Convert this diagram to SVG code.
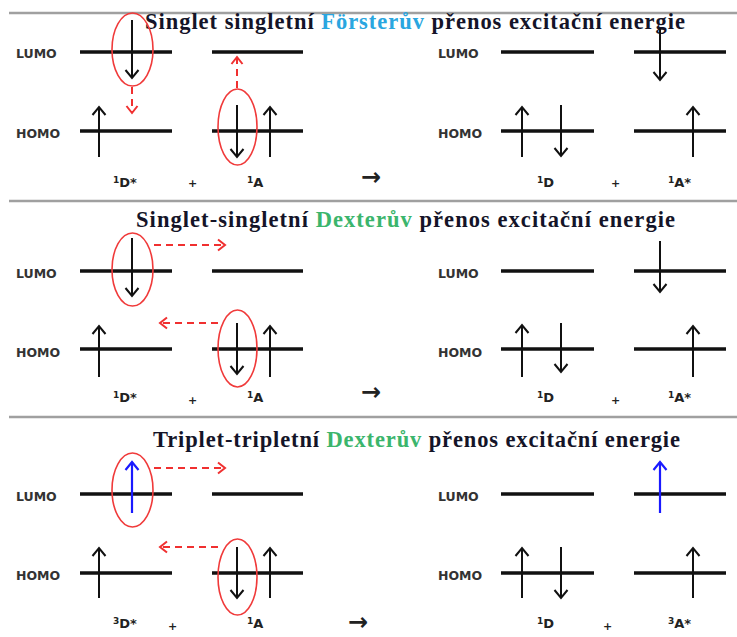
<svg xmlns="http://www.w3.org/2000/svg" width="737" height="637" viewBox="0 0 737 637">
<style>
.sep{stroke:#a0a0a0;stroke-width:2.5}
.lvl{stroke:#111;stroke-width:3.5}
.e{stroke:#111;stroke-width:2;fill:none}
.eb{stroke:#1a1aff;stroke-width:2.2;fill:none}
.rd{stroke:#f03030;stroke-width:2;fill:none;stroke-dasharray:7 5}
.ell{stroke:#f03a3a;stroke-width:1.6;fill:none}
.mo{font-family:"DejaVu Sans","Liberation Sans",sans-serif;font-weight:bold;font-size:12.5px;fill:#333}
.lb{font-family:"DejaVu Sans","Liberation Sans",sans-serif;font-weight:bold;font-size:13px;fill:#222}
.sp{font-size:9px}
.pl{font-family:"DejaVu Sans",sans-serif;font-weight:bold;font-size:11px;fill:#222}
.ar{font-family:"DejaVu Sans",sans-serif;font-weight:bold;font-size:24px;fill:#222}
.tt{font-family:"Liberation Serif","Times New Roman",serif;font-weight:bold;font-size:22.5px;fill:#141428}
.fo{fill:#2aa6e0}
.dx{fill:#3bb56c}
</style>
<defs>
<marker id="hk" viewBox="0 0 16 16" refX="9" refY="8" markerWidth="16" markerHeight="16" orient="auto" markerUnits="userSpaceOnUse"><path d="M1,1.5 L9,8 L1,14.5" fill="none" stroke="#111" stroke-width="2"/></marker>
<marker id="hr" viewBox="0 0 16 16" refX="9" refY="8" markerWidth="16" markerHeight="16" orient="auto" markerUnits="userSpaceOnUse"><path d="M2,2.5 L9,8 L2,13.5" fill="none" stroke="#f03030" stroke-width="2"/></marker>
<marker id="hb" viewBox="0 0 16 16" refX="9" refY="8" markerWidth="16" markerHeight="16" orient="auto" markerUnits="userSpaceOnUse"><path d="M1,1.5 L9,8 L1,14.5" fill="none" stroke="#1a1aff" stroke-width="2.2"/></marker>
</defs>

<g id="separators">
<line class="sep" x1="9" y1="13" x2="737" y2="13"/>
<line class="sep" x1="9" y1="201" x2="737" y2="201"/>
<line class="sep" x1="9" y1="417" x2="737" y2="417"/>
</g>

<g id="panel1">
<text class="tt" x="145" y="29" textLength="540" lengthAdjust="spacing">Singlet singletní <tspan class="fo">Försterův</tspan> přenos excitační energie</text>
<g id="p1-labels">
<text class="mo" x="16" y="57.5">LUMO</text>
<text class="mo" x="16" y="137.5">HOMO</text>
<text class="mo" x="438" y="57.5">LUMO</text>
<text class="mo" x="438" y="137.5">HOMO</text>
<text class="lb" x="113" y="187"><tspan class="sp" dy="-4">1</tspan><tspan dy="4">D*</tspan></text>
<text class="pl" x="188" y="187">+</text>
<text class="lb" x="247" y="187"><tspan class="sp" dy="-4">1</tspan><tspan dy="4">A</tspan></text>
<text class="ar" x="361" y="185">→</text>
<text class="lb" x="537" y="187"><tspan class="sp" dy="-4">1</tspan><tspan dy="4">D</tspan></text>
<text class="pl" x="611" y="187">+</text>
<text class="lb" x="668" y="187"><tspan class="sp" dy="-4">1</tspan><tspan dy="4">A*</tspan></text>
</g>
<g id="p1-D-star">
<line class="lvl" x1="80" y1="52" x2="172" y2="52"/>
<line class="lvl" x1="80" y1="131" x2="172" y2="131"/>
<line class="e" x1="132" y1="20" x2="132" y2="78" marker-end="url(#hk)"/>
<line class="e" x1="99" y1="157" x2="99" y2="107" marker-end="url(#hk)"/>
<ellipse class="ell" cx="132.5" cy="49.5" rx="20.5" ry="36.5"/>
</g>
<g id="p1-A">
<line class="lvl" x1="212" y1="52" x2="303" y2="52"/>
<line class="lvl" x1="212" y1="131" x2="303" y2="131"/>
<line class="e" x1="237" y1="105" x2="237" y2="157" marker-end="url(#hk)"/>
<line class="e" x1="270" y1="157" x2="270" y2="107" marker-end="url(#hk)"/>
<ellipse class="ell" cx="237.5" cy="127" rx="19.5" ry="38"/>
</g>
<g id="p1-D">
<line class="lvl" x1="501" y1="52" x2="594" y2="52"/>
<line class="lvl" x1="501" y1="131" x2="594" y2="131"/>
<line class="e" x1="522" y1="157" x2="522" y2="107" marker-end="url(#hk)"/>
<line class="e" x1="561" y1="105" x2="561" y2="156" marker-end="url(#hk)"/>
</g>
<g id="p1-A-star">
<line class="lvl" x1="634" y1="52" x2="726" y2="52"/>
<line class="lvl" x1="634" y1="131" x2="726" y2="131"/>
<line class="e" x1="660" y1="28" x2="660" y2="80" marker-end="url(#hk)"/>
<line class="e" x1="693" y1="157" x2="693" y2="107" marker-end="url(#hk)"/>
</g>
</g>

<g id="panel2">
<text class="tt" x="136" y="227" textLength="539" lengthAdjust="spacing">Singlet-singletní <tspan class="dx">Dexterův</tspan> přenos excitační energie</text>
<g id="p2-labels">
<text class="mo" x="16" y="277.5">LUMO</text>
<text class="mo" x="16" y="356.5">HOMO</text>
<text class="mo" x="438" y="277.5">LUMO</text>
<text class="mo" x="438" y="356.5">HOMO</text>
<text class="lb" x="113" y="402"><tspan class="sp" dy="-4">1</tspan><tspan dy="4">D*</tspan></text>
<text class="pl" x="188" y="404">+</text>
<text class="lb" x="247" y="402"><tspan class="sp" dy="-4">1</tspan><tspan dy="4">A</tspan></text>
<text class="ar" x="361" y="400">→</text>
<text class="lb" x="537" y="402"><tspan class="sp" dy="-4">1</tspan><tspan dy="4">D</tspan></text>
<text class="pl" x="611" y="404">+</text>
<text class="lb" x="668" y="402"><tspan class="sp" dy="-4">1</tspan><tspan dy="4">A*</tspan></text>
</g>
<g id="p2-D-star">
<line class="lvl" x1="80" y1="271" x2="172" y2="271"/>
<line class="lvl" x1="80" y1="349" x2="172" y2="349"/>
<line class="e" x1="132" y1="238" x2="132" y2="296" marker-end="url(#hk)"/>
<line class="e" x1="99" y1="377" x2="99" y2="326" marker-end="url(#hk)"/>
<ellipse class="ell" cx="132.5" cy="269.5" rx="20.5" ry="36.5"/>
</g>
<g id="p2-A">
<line class="lvl" x1="212" y1="271" x2="303" y2="271"/>
<line class="lvl" x1="212" y1="349" x2="303" y2="349"/>
<line class="e" x1="237" y1="323" x2="237" y2="374" marker-end="url(#hk)"/>
<line class="e" x1="270" y1="377" x2="270" y2="326" marker-end="url(#hk)"/>
<ellipse class="ell" cx="237.5" cy="348.5" rx="19.5" ry="38.5"/>
</g>
<g id="p2-D">
<line class="lvl" x1="501" y1="271" x2="594" y2="271"/>
<line class="lvl" x1="501" y1="349" x2="594" y2="349"/>
<line class="e" x1="522" y1="377" x2="522" y2="325" marker-end="url(#hk)"/>
<line class="e" x1="561" y1="323" x2="561" y2="372" marker-end="url(#hk)"/>
</g>
<g id="p2-A-star">
<line class="lvl" x1="634" y1="271" x2="726" y2="271"/>
<line class="lvl" x1="634" y1="349" x2="726" y2="349"/>
<line class="e" x1="660" y1="241" x2="660" y2="292" marker-end="url(#hk)"/>
<line class="e" x1="693" y1="377" x2="693" y2="326" marker-end="url(#hk)"/>
</g>
</g>

<g id="panel3">
<text class="tt" x="153" y="447" textLength="527" lengthAdjust="spacing">Triplet-tripletní <tspan class="dx">Dexterův</tspan> přenos excitační energie</text>
<g id="p3-labels">
<text class="mo" x="16" y="500.5">LUMO</text>
<text class="mo" x="16" y="579.5">HOMO</text>
<text class="mo" x="438" y="500.5">LUMO</text>
<text class="mo" x="438" y="579.5">HOMO</text>
<text class="lb" x="113" y="628"><tspan class="sp" dy="-4">3</tspan><tspan dy="4">D*</tspan></text>
<text class="pl" x="168" y="630">+</text>
<text class="lb" x="247" y="628"><tspan class="sp" dy="-4">1</tspan><tspan dy="4">A</tspan></text>
<text class="ar" x="348" y="630">→</text>
<text class="lb" x="537" y="628"><tspan class="sp" dy="-4">1</tspan><tspan dy="4">D</tspan></text>
<text class="pl" x="603" y="630">+</text>
<text class="lb" x="668" y="628"><tspan class="sp" dy="-4">3</tspan><tspan dy="4">A*</tspan></text>
</g>
<g id="p3-D-star">
<line class="lvl" x1="80" y1="494" x2="172" y2="494"/>
<line class="lvl" x1="80" y1="573" x2="172" y2="573"/>
<line class="eb" x1="132" y1="513" x2="132" y2="462" marker-end="url(#hb)"/>
<line class="e" x1="99" y1="598" x2="99" y2="548" marker-end="url(#hk)"/>
<ellipse class="ell" cx="132.5" cy="490" rx="20.5" ry="37"/>
</g>
<g id="p3-A">
<line class="lvl" x1="212" y1="494" x2="303" y2="494"/>
<line class="lvl" x1="212" y1="573" x2="303" y2="573"/>
<line class="e" x1="237" y1="547" x2="237" y2="598" marker-end="url(#hk)"/>
<line class="e" x1="270" y1="598" x2="270" y2="548" marker-end="url(#hk)"/>
<ellipse class="ell" cx="237.5" cy="577" rx="19.5" ry="38"/>
</g>
<g id="p3-D">
<line class="lvl" x1="501" y1="494" x2="594" y2="494"/>
<line class="lvl" x1="501" y1="573" x2="594" y2="573"/>
<line class="e" x1="522" y1="598" x2="522" y2="548" marker-end="url(#hk)"/>
<line class="e" x1="561" y1="547" x2="561" y2="598" marker-end="url(#hk)"/>
</g>
<g id="p3-A-star">
<line class="lvl" x1="634" y1="494" x2="726" y2="494"/>
<line class="lvl" x1="634" y1="573" x2="726" y2="573"/>
<line class="eb" x1="660" y1="513" x2="660" y2="462" marker-end="url(#hb)"/>
<line class="e" x1="693" y1="598" x2="693" y2="548" marker-end="url(#hk)"/>
</g>
</g>

<g id="connectors">
<line class="rd" x1="132" y1="87" x2="132" y2="113" marker-end="url(#hr)"/>
<line class="rd" x1="237" y1="88" x2="237" y2="57" marker-end="url(#hr)"/>
<line class="rd" x1="154" y1="245" x2="225" y2="245" marker-end="url(#hr)"/>
<line class="rd" x1="218" y1="323" x2="160" y2="323" marker-end="url(#hr)"/>
<line class="rd" x1="154" y1="468" x2="225" y2="468" marker-end="url(#hr)"/>
<line class="rd" x1="218" y1="547" x2="160" y2="547" marker-end="url(#hr)"/>
</g>
</svg>
